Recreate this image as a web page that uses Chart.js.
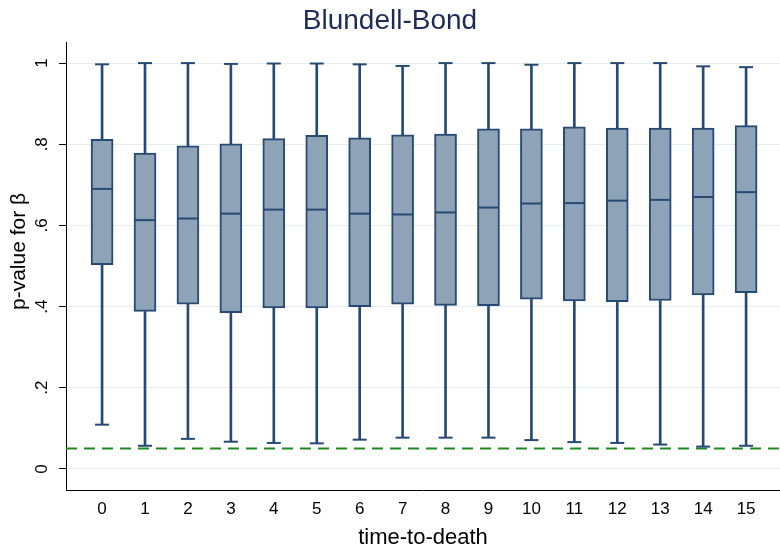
<!DOCTYPE html>
<html>
<head>
<meta charset="utf-8">
<script src="https://cdn.jsdelivr.net/npm/chart.js@4.4.1/dist/chart.umd.min.js"></script>
<style>
  html, body { margin: 0; padding: 0; background: #fff; overflow: hidden; }
  #wrap { width: 780px; height: 549px; }
</style>
</head>
<body>
<div id="wrap"><canvas id="boxChart"></canvas></div>
<script>
// time-to-death categories
const periods = [0, 1, 2, 3, 4, 5, 6, 7, 8, 9, 10, 11, 12, 13, 14, 15];

// box plot summaries of the p-values
const whiskerLow = [0.109, 0.057, 0.074, 0.067, 0.064, 0.063, 0.072, 0.077, 0.077, 0.077, 0.071, 0.066, 0.064, 0.060, 0.055, 0.057];
const quartile1  = [0.503, 0.388, 0.406, 0.385, 0.397, 0.397, 0.400, 0.406, 0.403, 0.402, 0.418, 0.414, 0.412, 0.415, 0.429, 0.434];
const medians    = [0.690, 0.613, 0.617, 0.629, 0.639, 0.639, 0.629, 0.627, 0.632, 0.644, 0.654, 0.655, 0.661, 0.663, 0.670, 0.682];
const quartile3  = [0.812, 0.778, 0.796, 0.801, 0.814, 0.822, 0.816, 0.823, 0.825, 0.838, 0.838, 0.843, 0.840, 0.840, 0.840, 0.846];
const whiskerHigh = [0.997, 1.000, 1.000, 0.998, 0.999, 0.999, 0.997, 0.993, 1.000, 1.000, 0.996, 1.000, 1.000, 1.000, 0.992, 0.990];

// 5% significance line
const refLevel = 0.05;

const yTicks = [0, 0.2, 0.4, 0.6, 0.8, 1];
const yTickLabels = ['0', '.2', '.4', '.6', '.8', '1'];

const xMin = -0.84, xMax = 15.79;
const yMin = -0.052, yMax = 1.052;

const navy = '#264a73';
const boxFill = '#8ea3b8';
const font = 'Liberation Sans, Arial, Helvetica, sans-serif';

const pts = arr => arr.map((v, i) => ({ x: periods[i], y: v }));
const spans = (a, b) => a.map((v, i) => ({ x: periods[i], y: [v, b[i]] }));

new Chart(document.getElementById('boxChart'), {
  type: 'bar',
  data: {
    datasets: [
      {
        type: 'scatter', label: 'median', data: pts(medians), order: 0,
        pointStyle: 'line', pointRadius: 10, pointBorderWidth: 2,
        pointBorderColor: navy, pointHoverRadius: 10
      },
      {
        type: 'scatter', label: 'caps', data: pts(whiskerLow).concat(pts(whiskerHigh)), order: 1,
        pointStyle: 'line', pointRadius: 7, pointBorderWidth: 2,
        pointBorderColor: navy, pointHoverRadius: 7
      },
      {
        label: 'box', data: spans(quartile1, quartile3), order: 2,
        backgroundColor: boxFill, borderColor: navy, borderWidth: 2,
        borderSkipped: false, barThickness: 22, grouped: false
      },
      {
        label: 'lower whisker', data: spans(whiskerLow, quartile1), order: 3,
        backgroundColor: navy, borderWidth: 0, barThickness: 2, grouped: false
      },
      {
        label: 'upper whisker', data: spans(quartile3, whiskerHigh), order: 3,
        backgroundColor: navy, borderWidth: 0, barThickness: 2, grouped: false
      },
      {
        type: 'line', label: '0.05', order: 4,
        data: [{ x: xMin, y: refLevel }, { x: xMax, y: refLevel }],
        borderColor: '#1e8a1e', borderWidth: 2, borderDash: [11, 7],
        pointRadius: 0, fill: false
      }
    ]
  },
  options: {
    responsive: true,
    maintainAspectRatio: false,
    animation: false,
    layout: { padding: 0, autoPadding: false },
    plugins: {
      legend: { display: false },
      tooltip: { enabled: false },
      title: {
        display: true,
        text: 'Blundell-Bond',
        color: '#1c2b58',
        font: { family: font, size: 28, weight: 'normal' },
        padding: { top: 4, bottom: 4.4 }
      }
    },
    scales: {
      x: {
        type: 'linear',
        min: xMin, max: xMax,
        offset: false,
        afterBuildTicks: axis => { axis.ticks = periods.map(v => ({ value: v })); },
        afterFit: axis => { axis.height = 59; axis.paddingLeft = 0; axis.paddingRight = 0; },
        grid: { display: false, drawTicks: false, offset: false },
        border: { color: '#000', width: 1 },
        ticks: {
          color: '#000', padding: 9, autoSkip: false, maxRotation: 0,
          font: { family: font, size: 17 }
        },
        title: {
          display: true, text: 'time-to-death', color: '#000',
          font: { family: font, size: 22 }, padding: { top: 0, bottom: -2 }
        }
      },
      y: {
        min: yMin, max: yMax,
        afterBuildTicks: axis => { axis.ticks = yTicks.map(v => ({ value: v })); },
        afterFit: axis => { axis.width = 66; axis.paddingTop = 0; axis.paddingBottom = 0; },
        grid: { color: '#e6edf1', lineWidth: 1, tickColor: '#000', tickLength: 7, tickWidth: 1 },
        border: { color: '#000', width: 1 },
        ticks: {
          color: '#000', padding: 10, minRotation: 90, maxRotation: 90, crossAlign: 'center',
          font: { family: font, size: 17 },
          callback: (v, i) => yTickLabels[i]
        },
        title: {
          display: true, text: '     p-value for β', color: '#000',
          font: { family: font, size: 21 }, padding: { top: 7, bottom: 0 }
        }
      }
    }
  }
});
</script>
</body>
</html>
